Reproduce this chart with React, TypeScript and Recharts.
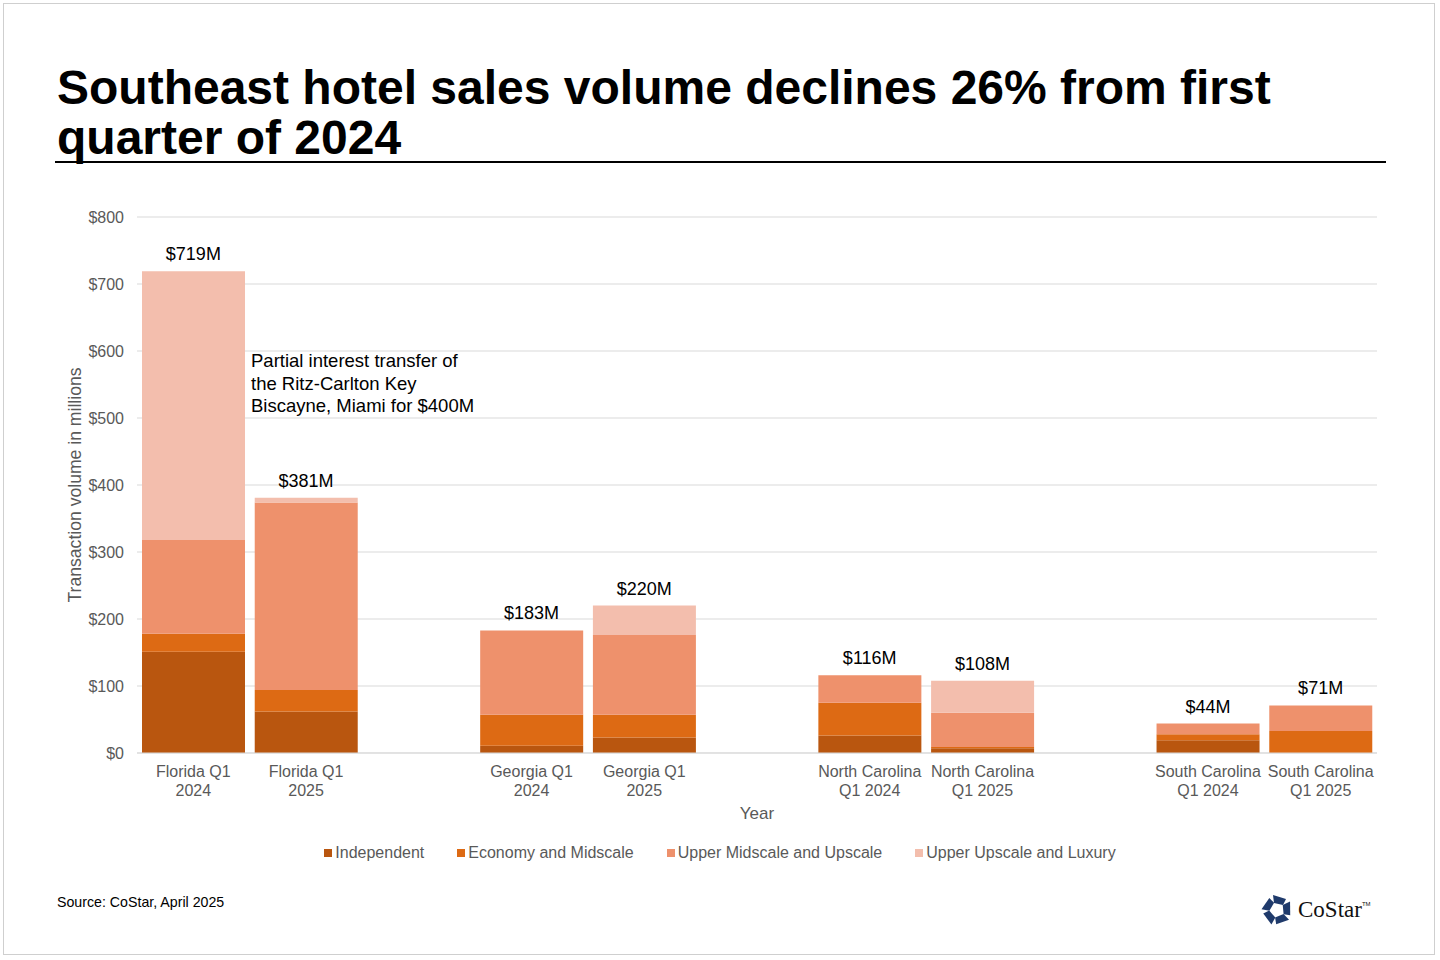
import React from "react";
import { ComposedChart, Bar, Line, XAxis, YAxis, CartesianGrid, LabelList } from "recharts";

const categories = [
  "Florida Q1 2024",
  "Florida Q1 2025",
  "gap1",
  "Georgia Q1 2024",
  "Georgia Q1 2025",
  "gap2",
  "North Carolina Q1 2024",
  "North Carolina Q1 2025",
  "gap3",
  "South Carolina Q1 2024",
  "South Carolina Q1 2025",
];
const tickLine1 = ["Florida Q1", "Florida Q1", "", "Georgia Q1", "Georgia Q1", "", "North Carolina", "North Carolina", "", "South Carolina", "South Carolina"];
const tickLine2 = ["2024", "2025", "", "2024", "2025", "", "Q1 2024", "Q1 2025", "", "Q1 2024", "Q1 2025"];

const independent = [151, 62, null, 11, 23, null, 26, 7, null, 19, 0];
const economy = [27, 32, null, 46, 34, null, 49, 2, null, 9, 33];
const upperMid = [140, 280, null, 126, 119, null, 41, 51, null, 16, 38];
const luxury = [401, 7, null, 0, 44, null, 0, 48, null, 0, 0];
const totals = [719, 381, null, 183, 220, null, 116, 108, null, 44, 71];

const yTicks = [0, 100, 200, 300, 400, 500, 600, 700, 800];

const series = [
  { key: "independent", name: "Independent", color: "#B9560F" },
  { key: "economy", name: "Economy and Midscale", color: "#DD6A14" },
  { key: "upperMid", name: "Upper Midscale and Upscale", color: "#EE916C" },
  { key: "luxury", name: "Upper Upscale and Luxury", color: "#F3BEAD" },
];

const data = categories.map((c, i) => ({
  name: c,
  independent: independent[i],
  economy: economy[i],
  upperMid: upperMid[i],
  luxury: luxury[i],
  total: totals[i],
}));

const FONT = "'Liberation Sans', Arial, sans-serif";
const GRAY = "#595959";

function CategoryTick({ x, y, payload }: any) {
  const i = payload.index;
  if (!tickLine1[i]) return null;
  return (
    <text x={x} textAnchor="middle" fontSize={16} fill={GRAY} fontFamily={FONT}>
      <tspan x={x} y={y + 16}>{tickLine1[i]}</tspan>
      <tspan x={x} y={y + 35}>{tickLine2[i]}</tspan>
    </text>
  );
}

function TotalLabel({ x, y, value }: any) {
  if (value == null) return null;
  return (
    <text x={x} y={y - 11} textAnchor="middle" fontSize={18} fill="#000" fontFamily={FONT}>
      ${value}M
    </text>
  );
}

function Logo() {
  const parts = [0, 72, 144, 216, 288];
  return (
    <div style={{ position: "absolute", left: 1260, top: 893, display: "flex", alignItems: "center" }}>
      <svg width={34} height={34} viewBox="-17 -17 34 34">
        {parts.map((a) => (
          <polygon key={a} points="-4,-15 9,-11 6,-5 -3,-7" fill="#1F3A6B" transform={`rotate(${a})`} />
        ))}
      </svg>
      <span style={{ fontFamily: "'Liberation Serif', 'DejaVu Serif', serif", fontSize: 23, color: "#111", marginLeft: 4 }}>
        CoStar
      </span>
      <span style={{ fontFamily: FONT, fontSize: 6, color: "#111", alignSelf: "flex-start", marginTop: 8 }}>TM</span>
    </div>
  );
}

export default function App() {
  return (
    <div style={{ position: "absolute", left: 0, top: 0, width: 1440, height: 960, background: "#fff", fontFamily: FONT }}>
      <div style={{ position: "absolute", left: 3, top: 3, width: 1430, height: 950, border: "1px solid #cfcfcf" }} />
      <div
        style={{
          position: "absolute",
          left: 57,
          top: 63,
          fontSize: 48,
          fontWeight: 700,
          lineHeight: "50px",
          color: "#000",
        }}
      >
        Southeast hotel sales volume declines 26% from first
        <br />
        quarter of 2024
      </div>
      <div style={{ position: "absolute", left: 55, top: 161, width: 1331, height: 2, background: "#000" }} />

      <div
        style={{
          position: "absolute",
          left: 75,
          top: 485,
          transform: "translate(-50%, -50%) rotate(-90deg)",
          whiteSpace: "nowrap",
          fontSize: 17.6,
          color: GRAY,
        }}
      >
        Transaction volume in millions
      </div>

      <div style={{ position: "absolute", left: 0, top: 190 }}>
        <ComposedChart
          width={1440}
          height={640}
          data={data}
          margin={{ top: 27, right: 63, left: 0, bottom: 17 }}
          barSize={103}
        >
          <CartesianGrid vertical={false} stroke="#d9d9d9" />
          <XAxis
            dataKey="name"
            interval={0}
            tickLine={false}
            axisLine={{ stroke: "#d9d9d9" }}
            height={60}
            tick={<CategoryTick />}
          />
          <YAxis
            width={137}
            domain={[0, 800]}
            ticks={yTicks}
            tickLine={false}
            axisLine={false}
            tickMargin={7}
            tick={{ fontSize: 16, fill: GRAY, fontFamily: FONT }}
            tickFormatter={(v) => `$${v}`}
          />
          {series.map((s) => (
            <Bar key={s.key} dataKey={s.key} name={s.name} stackId="a" fill={s.color} isAnimationActive={false} />
          ))}
          <Line
            dataKey="total"
            stroke="none"
            dot={false}
            activeDot={false}
            legendType="none"
            isAnimationActive={false}
          >
            <LabelList dataKey="total" content={<TotalLabel />} />
          </Line>
        </ComposedChart>
      </div>

      <div style={{ position: "absolute", left: 251, top: 350, fontSize: 18.5, lineHeight: "22.5px", color: "#000" }}>
        Partial interest transfer of
        <br />
        the Ritz-Carlton Key
        <br />
        Biscayne, Miami for $400M
      </div>

      <div style={{ position: "absolute", left: 757, top: 804, transform: "translateX(-50%)", fontSize: 17, color: GRAY }}>
        Year
      </div>

      <div
        style={{
          position: "absolute",
          left: 0,
          width: 1440,
          top: 844,
          display: "flex",
          justifyContent: "center",
          gap: 33,
          fontSize: 16,
          color: GRAY,
        }}
      >
        {series.map((s) => (
          <div key={s.key} style={{ display: "flex", alignItems: "center" }}>
            <span style={{ width: 8, height: 8, background: s.color, display: "inline-block", marginRight: 3 }} />
            <span>{s.name}</span>
          </div>
        ))}
      </div>

      <div style={{ position: "absolute", left: 57, top: 894, fontSize: 14.2, color: "#000" }}>Source: CoStar, April 2025</div>
      <Logo />
    </div>
  );
}
